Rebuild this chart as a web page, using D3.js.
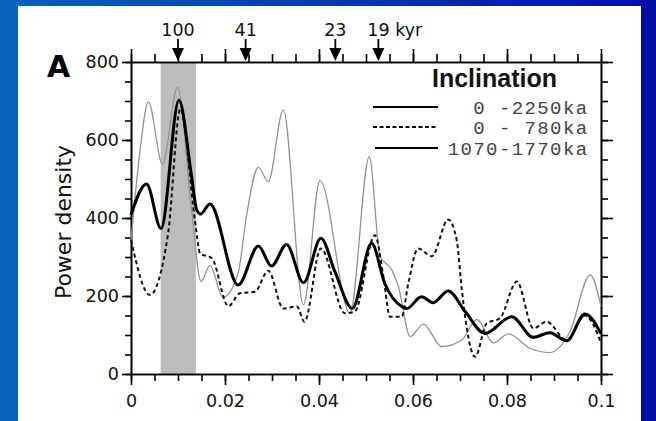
<!DOCTYPE html>
<html>
<head>
<meta charset="utf-8">
<script src="https://cdn.jsdelivr.net/npm/d3@7"></script>
<style>
  html, body { margin: 0; padding: 0; background: #fff; }
  svg { display: block; }
</style>
</head>
<body>
<div id="chart"></div>
<script>
// Data (frequency in 1/kyr, power density)
const FREQ_ALL = [0, 0.0033, 0.0064, 0.0102, 0.0129, 0.014, 0.0148, 0.0168, 0.0228, 0.0271, 0.0299, 0.0331, 0.0367, 0.0404, 0.0434, 0.0471, 0.0512, 0.054, 0.0576, 0.0587, 0.0618, 0.0643, 0.0675, 0.0711, 0.0753, 0.081, 0.0856, 0.0891, 0.0927, 0.0966, 0.1];
const POWER_ALL = [408, 487, 373, 702, 506, 420, 410, 436, 228, 328, 277, 332, 234, 348, 262, 168, 335, 232, 173, 168, 198, 183, 213, 160, 104, 147, 94, 106, 85, 154, 103];

const FREQ_RECENT = [0, 0.004, 0.0079, 0.0105, 0.0136, 0.0147, 0.0172, 0.0207, 0.0232, 0.0264, 0.0292, 0.0324, 0.0353, 0.0369, 0.0404, 0.0455, 0.0476, 0.0519, 0.0537, 0.0551, 0.0576, 0.059, 0.0611, 0.064, 0.0675, 0.0693, 0.0704, 0.0714, 0.0732, 0.0757, 0.0785, 0.0821, 0.0856, 0.0884, 0.0927, 0.0966, 0.1];
const POWER_RECENT = [344, 203, 361, 680, 395, 309, 297, 174, 207, 211, 265, 168, 173, 134, 322, 156, 160, 356, 250, 147, 147, 232, 322, 302, 396, 343, 215, 121, 44, 130, 143, 237, 117, 134, 87, 150, 80];

const FREQ_MID = [0, 0.0018, 0.0037, 0.0067, 0.0099, 0.0129, 0.0149, 0.0168, 0.0196, 0.0228, 0.0245, 0.0271, 0.0292, 0.0324, 0.0367, 0.0402, 0.0466, 0.0507, 0.053, 0.0555, 0.0569, 0.0594, 0.0622, 0.0661, 0.0704, 0.0736, 0.0771, 0.0803, 0.0849, 0.0891, 0.0934, 0.0977, 0.1];
const POWER_MID = [340, 560, 698, 538, 735, 420, 237, 278, 197, 259, 400, 530, 493, 677, 177, 496, 156, 557, 301, 267, 224, 96, 128, 70, 87, 140, 80, 103, 66, 55, 109, 254, 173];

const SHADED_BAND = [0.0063, 0.0138];
const PERIODS = [100, 41, 23, 19];
const PERIOD_LABELS = ["100", "41", "23", "19 kyr"];
const X_TICKS = [0, 0.02, 0.04, 0.06, 0.08, 0.1];
const X_TICK_LABELS = ["0", "0.02", "0.04", "0.06", "0.08", "0.1"];
const Y_TICKS = [0, 200, 400, 600, 800];
const LEGEND_TITLE = "Inclination";
const LEGEND_LABELS = ["0 -2250ka", "0 - 780ka", "1070-1770ka"];

const WIDTH = 656, HEIGHT = 421;
const PLOT = { left: 131, right: 601, top: 62, bottom: 374 };
const SANS = "'DejaVu Sans', sans-serif";

const svg = d3.select("#chart").append("svg")
  .attr("width", WIDTH)
  .attr("height", HEIGHT);

// blue slide background with white panel
const grad = svg.append("defs").append("linearGradient")
  .attr("id", "bg").attr("x1", 0).attr("x2", 1).attr("y1", 0).attr("y2", 0);
grad.append("stop").attr("offset", 0).attr("stop-color", "#0a63bb");
grad.append("stop").attr("offset", 1).attr("stop-color", "#0010a2");
svg.append("rect").attr("width", WIDTH).attr("height", HEIGHT).attr("fill", "url(#bg)");
svg.append("rect").attr("x", 18).attr("y", 6).attr("width", 623).attr("height", HEIGHT - 6).attr("fill", "#fff");

const x = d3.scaleLinear().domain([0, 0.1]).range([PLOT.left, PLOT.right]);
const y = d3.scaleLinear().domain([0, 800]).range([PLOT.bottom, PLOT.top]);

const xMinor = d3.range(0, 0.1001, 0.005);
const yMinor = d3.range(0, 801, 50);

// shaded 100 kyr band
svg.append("rect")
  .attr("x", x(SHADED_BAND[0]))
  .attr("y", y(800))
  .attr("width", x(SHADED_BAND[1]) - x(SHADED_BAND[0]))
  .attr("height", y(0) - y(800))
  .attr("fill", "#bdbdbd");

// Axes
function styleAxis(g) {
  g.select(".domain").attr("stroke", "#000").attr("stroke-width", 1.6);
  g.selectAll(".tick line").attr("stroke", "#000").attr("stroke-width", 1.6);
  g.attr("font-family", SANS).attr("font-size", 17.5);
  g.selectAll(".tick text").attr("fill", "#111");
}

svg.append("g").attr("transform", `translate(0,${PLOT.bottom})`)
  .call(d3.axisBottom(x).tickValues(xMinor).tickSize(7).tickSizeOuter(0).tickFormat(""))
  .call(styleAxis);
svg.append("g").attr("transform", `translate(0,${PLOT.bottom})`)
  .call(d3.axisBottom(x).tickValues(X_TICKS).tickSize(11).tickSizeOuter(0).tickPadding(10)
    .tickFormat((d, i) => X_TICK_LABELS[i]))
  .call(styleAxis);

svg.append("g").attr("transform", `translate(0,${PLOT.top})`)
  .call(d3.axisTop(x).tickValues(xMinor).tickSize(8).tickSizeOuter(0).tickFormat(""))
  .call(styleAxis);
svg.append("g").attr("transform", `translate(0,${PLOT.top})`)
  .call(d3.axisTop(x).tickValues(X_TICKS).tickSize(13).tickSizeOuter(0).tickFormat(""))
  .call(styleAxis);

svg.append("g").attr("transform", `translate(${PLOT.left},0)`)
  .call(d3.axisLeft(y).tickValues(yMinor).tickSize(6).tickSizeOuter(0).tickFormat(""))
  .call(styleAxis);
svg.append("g").attr("transform", `translate(${PLOT.left},0)`)
  .call(d3.axisLeft(y).tickValues(Y_TICKS).tickSize(9).tickSizeOuter(0).tickPadding(3))
  .call(styleAxis);

svg.append("g").attr("transform", `translate(${PLOT.right},0)`)
  .call(d3.axisRight(y).tickValues(yMinor).tickSize(7).tickSizeOuter(0).tickFormat(""))
  .call(styleAxis);
svg.append("g").attr("transform", `translate(${PLOT.right},0)`)
  .call(d3.axisRight(y).tickValues(Y_TICKS).tickSize(12).tickSizeOuter(0).tickFormat(""))
  .call(styleAxis);

// Spectra
const line = d3.line()
  .curve(d3.curveMonotoneX)
  .x((d) => x(d[0]))
  .y((d) => y(d[1]));

const zip = (fs, ps) => fs.map((f, i) => [f, ps[i]]);

svg.append("path")
  .attr("d", line(zip(FREQ_MID, POWER_MID)))
  .attr("fill", "none")
  .attr("stroke", "#939393")
  .attr("stroke-width", 1.3);

svg.append("path")
  .attr("d", line(zip(FREQ_RECENT, POWER_RECENT)))
  .attr("fill", "none")
  .attr("stroke", "#111")
  .attr("stroke-width", 2)
  .attr("stroke-dasharray", "4,3");

svg.append("path")
  .attr("d", line(zip(FREQ_ALL, POWER_ALL)))
  .attr("fill", "none")
  .attr("stroke", "#000")
  .attr("stroke-width", 3)
  .style("stroke-linejoin", "round");

// orbital period arrows
const arrows = svg.selectAll(".period")
  .data(PERIODS)
  .enter()
  .append("g")
  .classed("period", true)
  .attr("transform", (d) => `translate(${x(1 / d)},0)`);
arrows.append("line")
  .attr("y1", 39).attr("y2", 50)
  .attr("stroke", "#000").attr("stroke-width", 1.8);
arrows.append("path")
  .attr("d", "M-6,48L6,48L0,61Z")
  .attr("fill", "#000");
arrows.append("text")
  .attr("y", 36)
  .attr("x", (d, i) => (i === PERIODS.length - 1 ? -11 : 0))
  .attr("text-anchor", (d, i) => (i === PERIODS.length - 1 ? "start" : "middle"))
  .attr("font-family", SANS)
  .attr("font-size", 17.5)
  .attr("fill", "#111")
  .text((d, i) => PERIOD_LABELS[i]);

// panel letter and y label
svg.append("text")
  .attr("x", 47).attr("y", 77)
  .attr("font-family", "'DejaVu Sans', sans-serif")
  .attr("font-weight", "bold")
  .attr("font-size", 30)
  .text("A");

svg.append("text")
  .attr("transform", "translate(63,222) rotate(-90)")
  .attr("text-anchor", "middle")
  .attr("dominant-baseline", "central")
  .attr("font-family", SANS)
  .attr("font-size", 22)
  .attr("fill", "#111")
  .text("Power density");

// Legend
svg.append("text")
  .attr("x", 432).attr("y", 87)
  .attr("font-family", "'Liberation Sans', Arial, sans-serif")
  .attr("font-weight", "bold")
  .attr("font-size", 25)
  .attr("fill", "#111")
  .text(LEGEND_TITLE);

const legendRows = [
  { dash: null, width: 2 },
  { dash: "4,2.5", width: 1.8 },
  { dash: null, width: 2 },
];
const legendY = [107, 127, 148];
const legend = svg.selectAll(".legend-row")
  .data(LEGEND_LABELS)
  .enter()
  .append("g")
  .classed("legend-row", true)
  .attr("transform", (d, i) => `translate(0,${legendY[i]})`);
legend.append("line")
  .attr("x1", (d, i) => (i === 2 ? 375 : 373)).attr("x2", 438)
  .attr("stroke", "#000")
  .attr("stroke-width", (d, i) => legendRows[i].width)
  .attr("stroke-dasharray", (d, i) => legendRows[i].dash);
legend.append("text")
  .attr("x", 588.5)
  .attr("y", 6.5)
  .attr("text-anchor", "end")
  .attr("font-family", "'Liberation Mono', monospace")
  .attr("font-size", 19)
  .attr("letter-spacing", 1.4)
  .attr("fill", "#444")
  .style("white-space", "pre")
  .text((d) => d);
</script>
</body>
</html>
